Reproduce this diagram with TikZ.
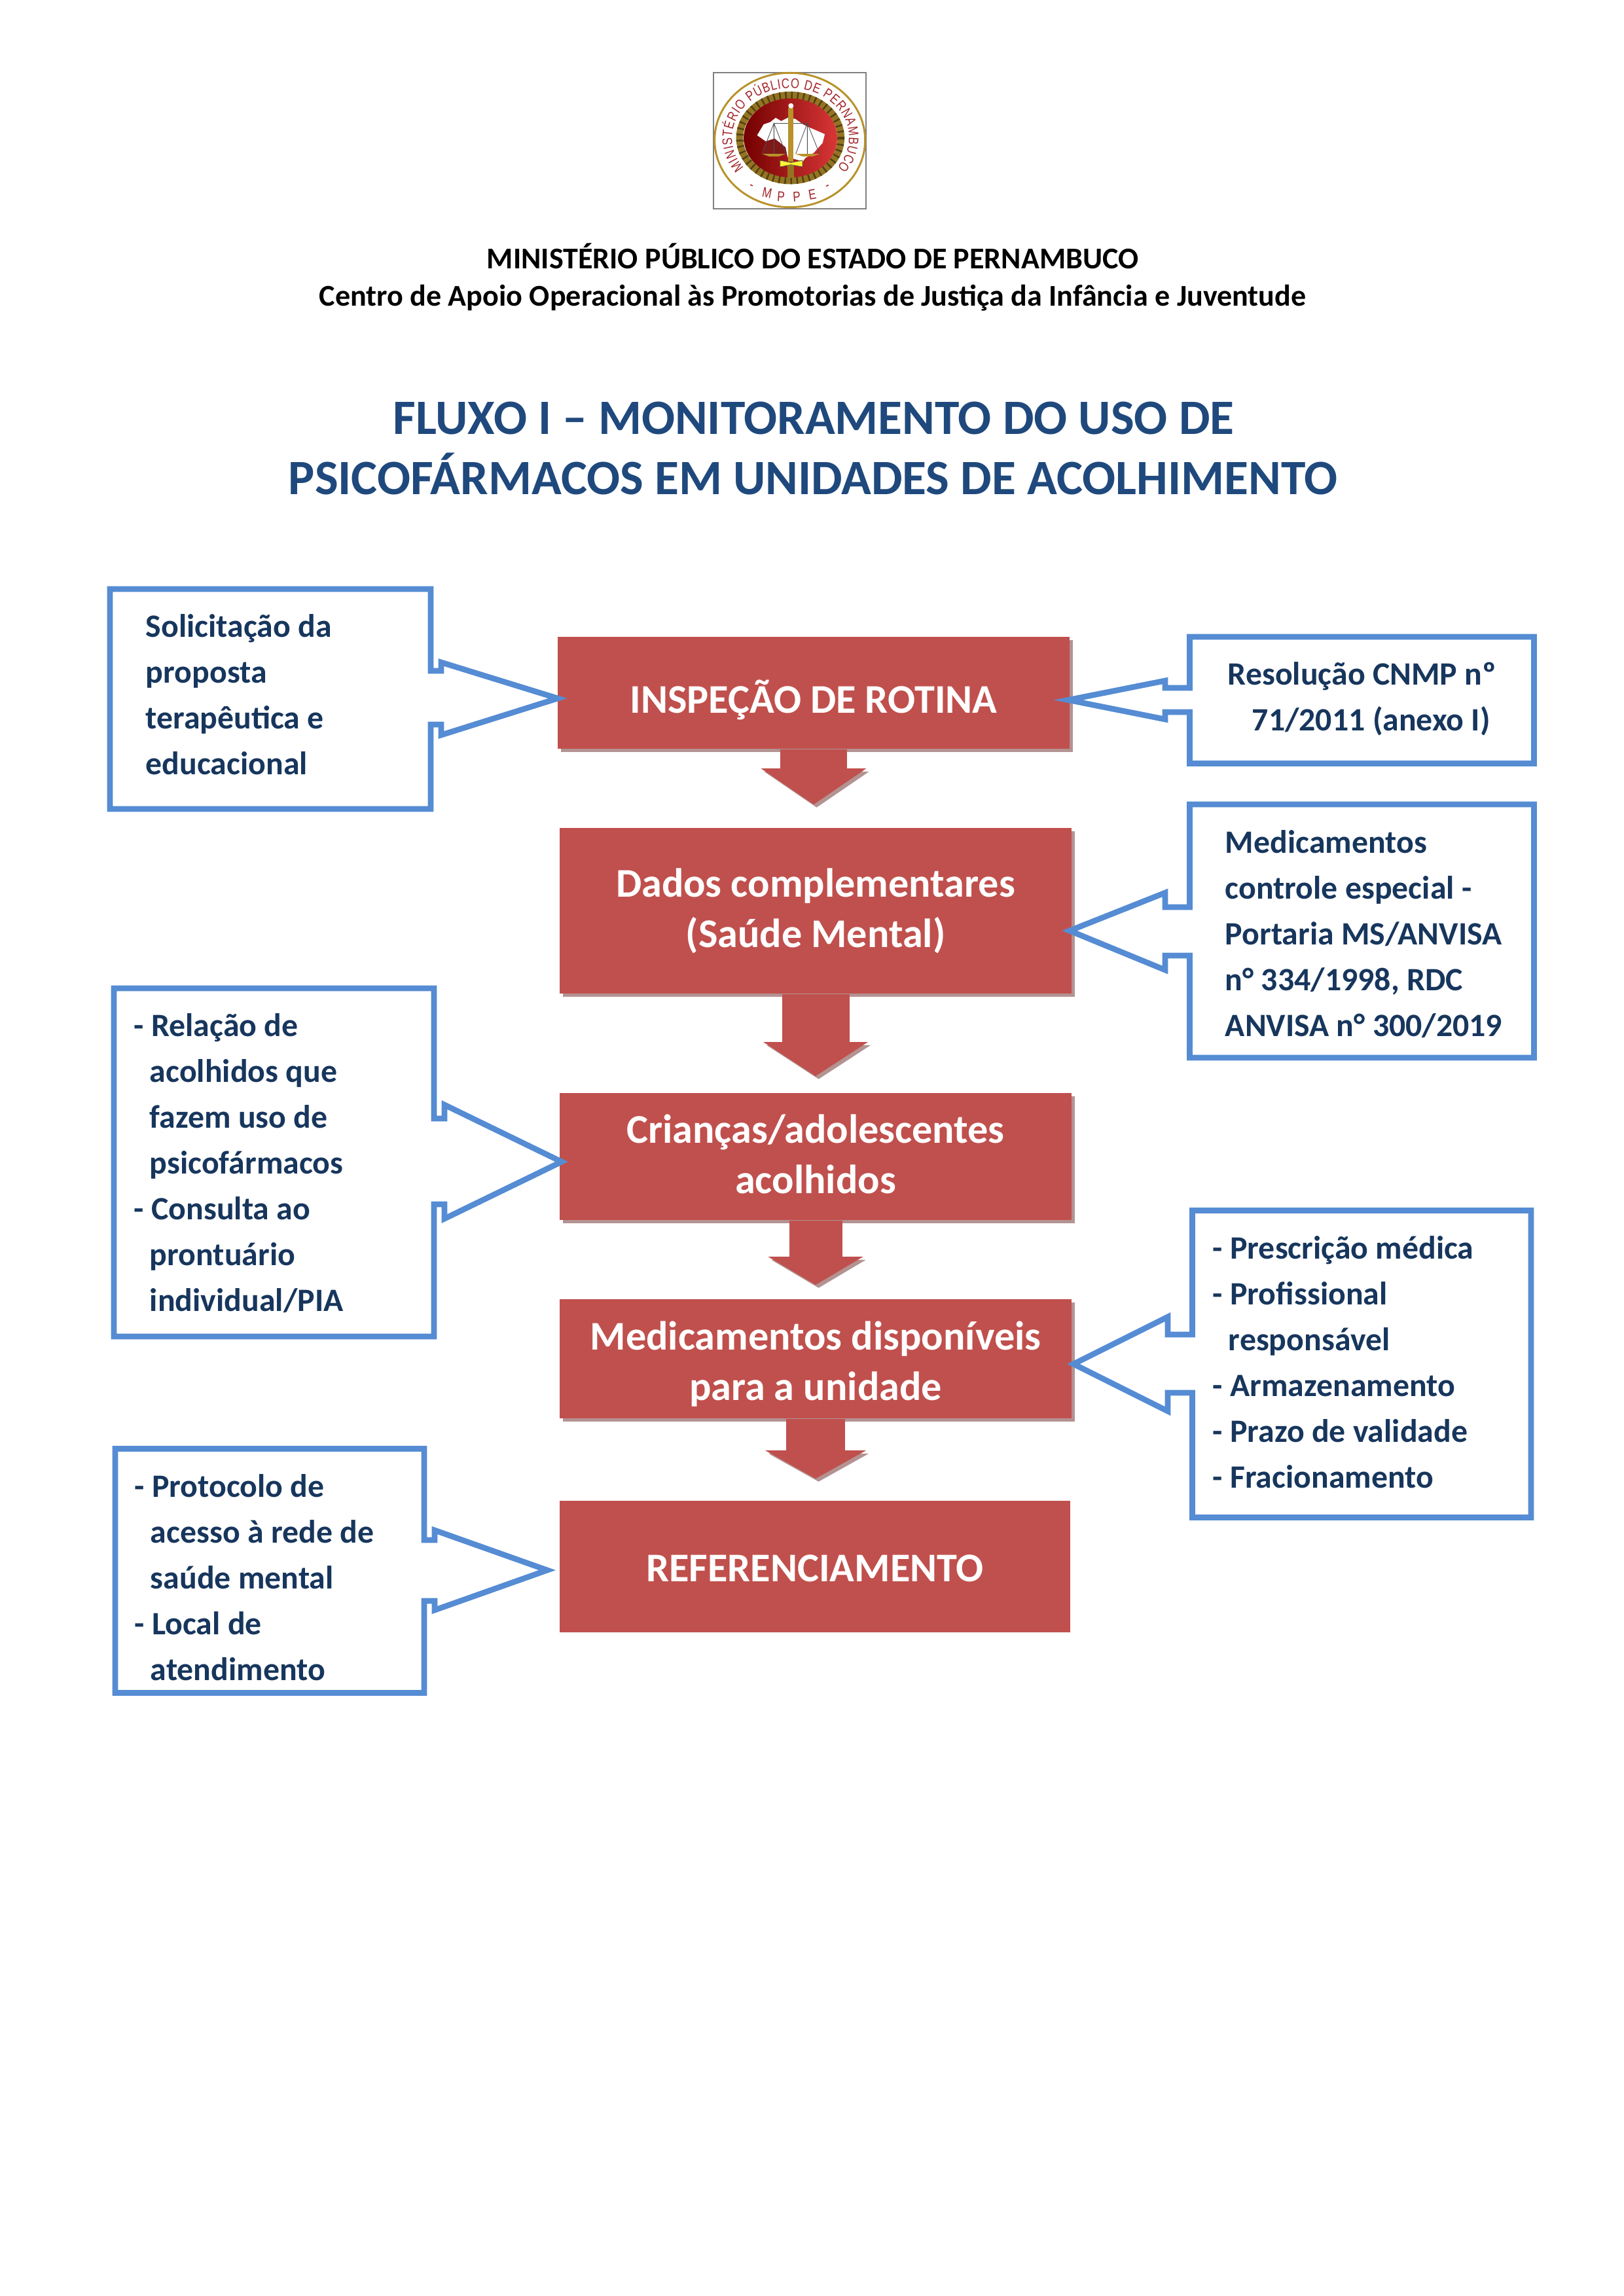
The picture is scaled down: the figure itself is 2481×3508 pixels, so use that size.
\documentclass[tikz,border=0pt]{standalone}
\usepackage{fontspec}
\setmainfont{Carlito}
\newfontfamily\logofont[FakeStretch=0.8]{Liberation Sans}
\usepackage{tikz}
\usetikzlibrary{arrows.meta,shadows,decorations.text}
\definecolor{boxred}{HTML}{C0504D}
\definecolor{lineblue}{HTML}{558CD3}
\definecolor{textnavy}{HTML}{17365D}
\definecolor{titleblue}{HTML}{1F497D}
\definecolor{logored}{HTML}{A3262B}
\definecolor{logogold}{HTML}{B8912A}
\definecolor{shadowgray}{HTML}{B39392}
\newcommand{\pxu}{0.2409pt}
\newcommand{\ind}{\hspace*{5.8pt}}
\tikzset{
	redbox/.style={fill=boxred,text=white,align=center,inner sep=0pt,font=\fontsize{15}{18.5}\selectfont\bfseries},
	boxshadow/.style={drop shadow={shadow xshift=1.2pt,shadow yshift=-1.2pt,fill=shadowgray,opacity=1}},
	calloutline/.style={draw=lineblue,line width=2.1pt,fill=white},
	callouttext/.style={anchor=base west,align=left,inner sep=0pt,text=textnavy,font=\fontsize{12}{16.86}\selectfont\bfseries},
	headtext/.style={anchor=base west,font=\fontsize{11.1}{11.1}\selectfont\bfseries,inner sep=0pt},
	titletext/.style={anchor=base west,font=\fontsize{18.2}{18.2}\selectfont\bfseries,text=titleblue,inner sep=0pt},
	logoletter/.style={inner sep=0pt,text=logored,font=\logofont\fontsize{5.2}{5.2}\selectfont},
}

\begin{document}
\begin{tikzpicture}[x=0.08467mm,y=-0.08467mm]
	\useasboundingbox (0,0) rectangle (2481,3508);
	% logo
	\draw[gray,line width=0.35pt,fill=white] (1090,111) rectangle (1323,319);
	\begin{scope}[shift={(1060,90)},scale=1/3]
		\draw[logogold,line width=0.7pt] (440,372) ellipse[x radius=345,y radius=308];
		\draw[logogold!80!black,line width=2.6pt] (442,362) ellipse[x radius=232,y radius=196];
		\draw[logogold!45!black,line width=2.6pt,dash pattern=on 0.6pt off 1.6pt] (442,362) ellipse[x radius=232,y radius=196];
		\shade[left color=red!45!black,right color=red!75!white!85!black] (443,362) ellipse[x radius=214,y radius=181];
		\fill[white] (290,350) -- (320,300) -- (350,290) -- (375,270) -- (400,285) -- (430,270) -- (465,275)
			-- (500,300) -- (520,310) -- (600,345) -- (590,385) -- (550,430) -- (510,455) -- (500,470)
			-- (430,450) -- (420,405) -- (370,365) -- (330,378) -- cycle;
		\fill[red!45!black!90!white] (330,378) -- (370,365) -- (420,405) -- (425,435) -- (312,435) -- cycle;
		\draw[black!70,line width=0.2pt] (365,295) -- (520,295);
		\draw[black!70,line width=0.2pt] (312,435) -- (367,295) -- (422,435) (367,295) -- (367,435);
		\draw[black!70,line width=0.2pt] (467,435) -- (520,295) -- (576,435) (520,295) -- (520,435);
		\fill[logogold] (312,435) -- (422,435) -- (390,447) -- (345,447) -- cycle;
		\fill[logogold] (465,435) -- (578,435) -- (545,447) -- (498,447) -- cycle;
		\fill[logogold] (432,225) -- (455,225) -- (455,470) -- (432,470) -- cycle;
		\fill[white] (445,215) circle[radius=12];
		\draw[black!70,fill=yellow!80!white,line width=0.2pt] (395,465) -- (445,475) -- (498,465) -- (498,495) -- (445,485) -- (395,495) -- cycle;
		\fill[logogold!80!black] (430,485) rectangle (460,545);
		\path[decorate,decoration={text along path,text align={fit to path},
			text={|\logofont\fontsize{5.1}{5.1}\selectfont\color{logored}|MINISTÉRIO PÚBLICO DE PERNAMBUCO}}]
			(443,362) ++(143:268 and 228) arc[start angle=143,end angle=397,x radius=268,y radius=228];
	\end{scope}
	\foreach \lx/\ly/\lr/\lt/\ln in {1147/286/-25/-/ma,1172/295/-12/M/mb,1193/300/-4/P/mc,1217/301/4/P/md,1241/297/10/E/me,1265/286/25/-/mf}
		\node[logoletter,rotate=\lr] (\ln) at (\lx,\ly) {\lt};
	% titles
	\node[headtext] (head1) at (743,410) {MINISTÉRIO PÚBLICO DO ESTADO DE PERNAMBUCO};
	\node[headtext] (head2) at (487,467) {Centro de Apoio Operacional às Promotorias de Justiça da Infância e Juventude};
	\node[titletext] (title1) at (600,663) {FLUXO I – MONITORAMENTO DO USO DE};
	\node[titletext] (title2) at (440,755) {PSICOFÁRMACOS EM UNIDADES DE ACOLHIMENTO};
	% main boxes
	\node[redbox,boxshadow,minimum width=782*\pxu,minimum height=171*\pxu] (inspecao) at (1243,1058.5) {\rule{0pt}{17.4pt}INSPEÇÃO DE ROTINA};
	\node[redbox,boxshadow,minimum width=782*\pxu,minimum height=253*\pxu] (dados) at (1246,1391.5) {Dados complementares\\(Saúde Mental)};
	\node[redbox,boxshadow,minimum width=782*\pxu,minimum height=194*\pxu] (criancas) at (1246,1767) {Crianças/adolescentes\\acolhidos\rule[-1.9pt]{0pt}{0pt}};
	\node[redbox,boxshadow,minimum width=782*\pxu,minimum height=182*\pxu] (medicamentos) at (1246,2076) {\rule{0pt}{14.4pt}Medicamentos disponíveis\\para a unidade};
	\node[redbox,minimum width=780*\pxu,minimum height=201*\pxu] (referencia) at (1245,2393.5) {\rule{0pt}{11.1pt}REFERENCIAMENTO};
	% arrows
	\foreach \a/\b/\s/\w/\h/\l in {inspecao/dados/35/102/158/55,dados/criancas/25/103/157/52,criancas/medicamentos/21/81/143/43,medicamentos/referencia/33/90/152/43}{
		\draw[shadowgray,line width=4pt,-{Triangle[length=\l*\pxu,width=\h*\pxu]},shorten >=\s*\pxu,transform canvas={shift={(1.1pt,-1.1pt)}}] (\a.south) -- (\a.south |- \b.north);
		\draw[boxred,line width=\w*\pxu,-{Triangle[length=\l*\pxu,width=\h*\pxu]},shorten >=\s*\pxu] (\a.south) -- (\a.south |- \b.north);
	}
	% callouts
	\draw[calloutline] (168,900) -- (658,900) -- (658,1025) -- (674,1025) -- (674,1012) -- (852,1067) -- (674,1123) -- (674,1107) -- (658,1107) -- (658,1236) -- (168,1236) -- cycle;
	\node[callouttext] (proposta) at (222,1183) {Solicitação da\\proposta\\terapêutica e\\educacional};
	\draw[calloutline] (1817.5,973) -- (2343.5,973) -- (2343.5,1166.5) -- (1817.5,1166.5) -- (1817.5,1088) -- (1780,1088) -- (1780,1099) -- (1632,1069.5) -- (1780,1040) -- (1780,1051) -- (1817.5,1051) -- cycle;
	\node[callouttext] (resolucao) at (1875,1116) {Resolução CNMP nº\\\hspace*{8.9pt}71/2011 (anexo I)};
	\draw[calloutline] (1817.5,1229) -- (2343.5,1229) -- (2343.5,1616) -- (1817.5,1616) -- (1817.5,1460) -- (1780,1460) -- (1780,1482) -- (1634,1422) -- (1780,1364) -- (1780,1386) -- (1817.5,1386) -- cycle;
	\node[callouttext] (portaria) at (1871,1583) {Medicamentos\\controle especial -\\Portaria MS/ANVISA\\n° 334/1998, RDC\\ANVISA n° 300/2019};
	\draw[calloutline] (174,1510) -- (663,1510) -- (663,1709) -- (679,1709) -- (679,1688) -- (858,1775) -- (679,1862) -- (679,1840) -- (663,1840) -- (663,2042) -- (174,2042) -- cycle;
	\node[callouttext] (relacao) at (204,2003) {- Relação de\\\ind acolhidos que\\\ind fazem uso de\\\ind psicofármacos\\- Consulta ao\\\ind prontuário\\\ind individual/PIA};
	\draw[calloutline] (1821.5,1849.5) -- (2339,1849.5) -- (2339,2318.5) -- (1821.5,2318.5) -- (1821.5,2128) -- (1784,2128) -- (1784,2156) -- (1640,2084) -- (1784,2012) -- (1784,2039) -- (1821.5,2039) -- cycle;
	\node[callouttext] (prescricao) at (1852,2273) {- Prescrição médica\\- Profissional\\\ind responsável\\- Armazenamento\\- Prazo de validade\\- Fracionamento};
	\draw[calloutline] (176,2213.5) -- (648,2213.5) -- (648,2353) -- (664,2353) -- (664,2338) -- (836,2399) -- (664,2460) -- (664,2446) -- (648,2446) -- (648,2586.5) -- (176,2586.5) -- cycle;
	\node[callouttext] (protocolo) at (205,2567) {- Protocolo de\\\ind acesso à rede de\\\ind saúde mental\\- Local de\\\ind atendimento};
\end{tikzpicture}
\end{document}
